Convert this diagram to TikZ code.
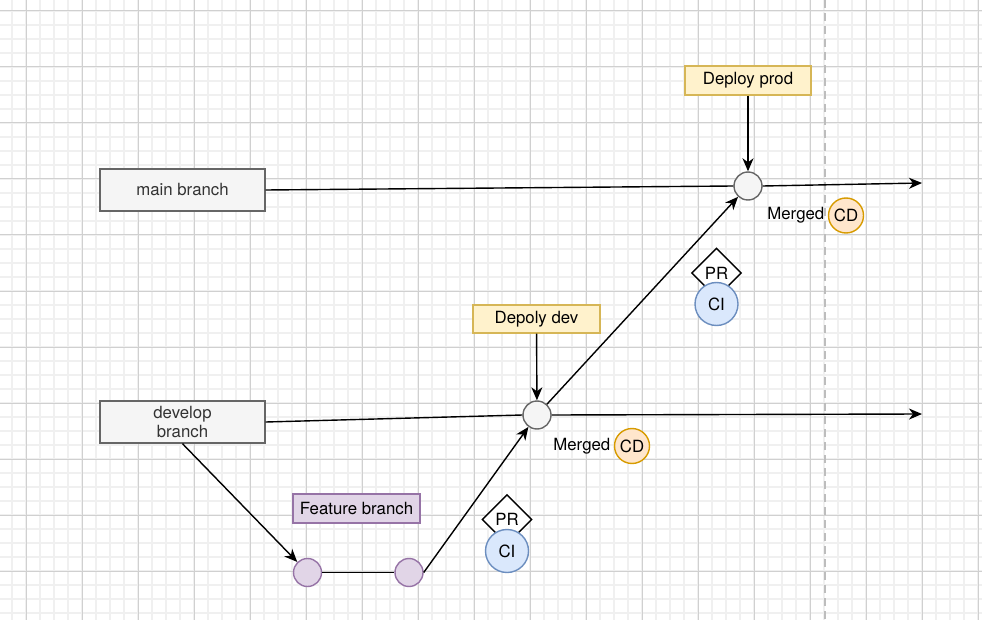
\documentclass[tikz,border=0pt]{standalone}
\usepackage{fontspec}
\setmainfont{TeX Gyre Heros}
\usetikzlibrary{arrows.meta,shapes.geometric,positioning}

\definecolor{gridmajor}{HTML}{D0D0D0}
\definecolor{gridminor}{HTML}{F0F0F0}
\definecolor{grayfill}{HTML}{F5F5F5}
\definecolor{graydraw}{HTML}{666666}
\definecolor{graytext}{HTML}{333333}
\definecolor{yellowfill}{HTML}{FFF2CC}
\definecolor{yellowdraw}{HTML}{D6B656}
\definecolor{purplefill}{HTML}{E1D5E7}
\definecolor{purpledraw}{HTML}{9673A6}
\definecolor{orangefill}{HTML}{FFE6CC}
\definecolor{orangedraw}{HTML}{D79B00}
\definecolor{bluefill}{HTML}{DAE8FC}
\definecolor{bluedraw}{HTML}{6C8EBF}
\definecolor{lanedash}{HTML}{BDBDBD}

\tikzset{
	branchbox/.style={draw=graydraw,fill=grayfill,text=graytext,line width=1.4pt,
		minimum width=165pt,minimum height=42pt,inner sep=0pt,align=center},
	deploybox/.style={draw=yellowdraw,fill=yellowfill,line width=1.4pt,
		minimum width=126pt,minimum height=29pt,inner sep=0pt},
	featbox/.style={draw=purpledraw,fill=purplefill,line width=1.4pt,
		minimum width=127pt,minimum height=29pt,inner sep=0pt},
	commit/.style={circle,draw=graydraw,fill=grayfill,line width=1.4pt,minimum size=28pt,inner sep=0pt},
	featcommit/.style={circle,draw=purpledraw,fill=purplefill,line width=1.4pt,minimum size=28pt,inner sep=0pt},
	cdtag/.style={circle,draw=orangedraw,fill=orangefill,line width=1.4pt,minimum size=35pt,inner sep=0pt},
	citag/.style={circle,draw=bluedraw,fill=bluefill,line width=1.4pt,minimum size=43pt,inner sep=0pt},
	prtag/.style={diamond,aspect=1,draw=black,fill=white,line width=1.4pt,minimum size=50pt,inner sep=0pt},
	flow/.style={->,line width=1.4pt},
}

\begin{document}
\begin{tikzpicture}[x=1pt,y=-1pt,>={Stealth[length=13pt,width=11pt,inset=4pt]},
	font=\fontsize{16.8pt}{20pt}\selectfont]
	\useasboundingbox (0,0) rectangle (982,620);
	\fill[white] (0,0) rectangle (982,620);
	%% Grid
	\foreach \gx in {12,26,...,982} \draw[gridminor,line width=1.5pt] (\gx,0) -- (\gx,620);
	\foreach \gy in {11,25,...,620} \draw[gridminor,line width=1.5pt] (0,\gy) -- (982,\gy);
	\foreach \gx in {26,82,...,982} \draw[gridmajor,line width=1pt] (\gx,0) -- (\gx,620);
	\foreach \gy in {11,67,...,620} \draw[gridmajor,line width=1pt] (0,\gy) -- (982,\gy);
	\draw[lanedash,line width=2pt,dash pattern=on 8pt off 5pt] (824.5,0) -- (824.5,620);
	
	%% Branches
	\node (MainBranch) [branchbox] at (182.5,190) {main branch};
	\node (DevBranch)  [branchbox] at (182.5,422) {develop\\branch};
	\coordinate (MainEnd) at (922,183);
	\coordinate (DevEnd)  at (922,414);
	
	%% Merge commits
	\node (MainMerge) [commit] at (748,186) {};
	\node (DevMerge)  [commit] at (537,415) {};
	
	%% Deploy tags
	\node (DeployProd) [deploybox] at (748,80.5) {Deploy prod};
	\node (DeployDev)  [deploybox,minimum width=127pt,minimum height=28pt] at (536.5,319) {Depoly dev};
	
	%% Feature branch
	\node (FeatLabel) [featbox] at (356.5,508.5) {Feature branch};
	\node (Feat1) [featcommit] at (307.5,572.5) {};
	\node (Feat2) [featcommit] at (409,572.5) {};
	
	%% PR / CI
	\node (PRdev)  [prtag] at (507,519.5) {PR};
	\node (CIdev)  [citag] at (507,551) {CI};
	\node (PRmain) [prtag] at (716.5,273) {PR};
	\node (CImain) [citag] at (716.5,304) {CI};
	
	%% CD
	\node (CDmain) [cdtag] at (846,215.5) {CD};
	\node (MergedMain) [left=0pt of CDmain] {Merged};
	\node (CDdev)  [cdtag] at (632,446) {CD};
	\node (MergedDev) [left=0pt of CDdev] {Merged};
	
	%% Connectors
	\draw[line width=1.4pt] (MainBranch.east) -- (MainMerge.west);
	\draw[flow] (MainMerge.east) -- (MainEnd);
	\draw[line width=1.4pt] (DevBranch.east) -- (DevMerge.west);
	\draw[flow] (DevMerge.east) -- (DevEnd);
	\draw[flow] (DeployProd) -- (MainMerge);
	\draw[flow] (DeployDev) -- (DevMerge);
	\draw[flow] (DevBranch.south) -- (Feat1);
	\draw[line width=1.4pt] (Feat1) -- (Feat2);
	\draw[flow] (Feat2.east) -- (DevMerge);
	\draw[flow] (DevMerge) -- (MainMerge);
\end{tikzpicture}
\end{document}
